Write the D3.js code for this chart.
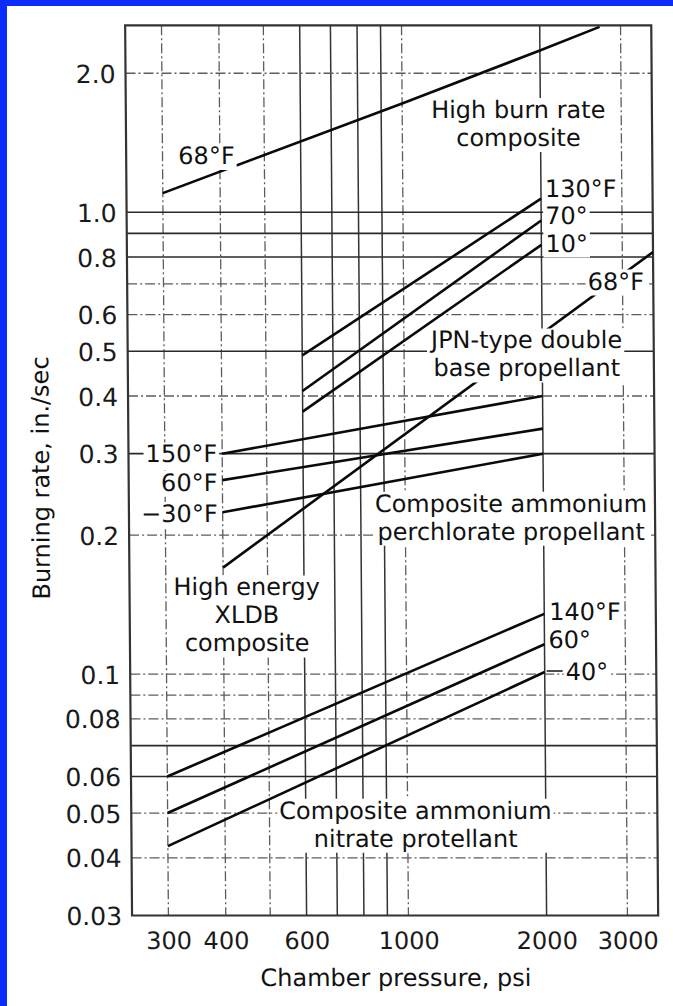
<!DOCTYPE html>
<html>
<head>
<meta charset="utf-8">
<title>Burning rate vs chamber pressure</title>
<script src="https://cdn.jsdelivr.net/npm/d3@7/dist/d3.min.js"></script>
<style>
  html, body { margin: 0; padding: 0; background: #fff; }
  svg { display: block; }
  text { font-family: "DejaVu Sans", "Liberation Sans", sans-serif; }
</style>
</head>
<body>
<svg id="chart" width="673" height="1006"></svg>
<script>
// ---------------- DATA ----------------
// Axis ticks
const pressureTicks = [300, 400, 600, 1000, 2000, 3000];
const pressureTickLabels = ["300", "400", "600", "1000", "2000", "3000"];
const rateTicks = [2.0, 1.0, 0.8, 0.6, 0.5, 0.4, 0.3, 0.2, 0.1, 0.08, 0.06, 0.05, 0.04, 0.03];
const rateTickLabels = ["2.0", "1.0", "0.8", "0.6", "0.5", "0.4", "0.3", "0.2", "0.1", "0.08", "0.06", "0.05", "0.04", "0.03"];

// Grid lines (log paper)
const pressureGridLines = [300, 400, 500, 600, 700, 800, 900, 1000, 2000, 3000];
const pressureGridSolid = [600, 700, 800, 900, 2000];
const rateGridLines = [2, 1, 0.9, 0.8, 0.7, 0.6, 0.5, 0.4, 0.3, 0.2, 0.1, 0.09, 0.08, 0.07, 0.06, 0.05, 0.04];
const rateGridSolid = [1, 0.9, 0.8, 0.5, 0.3, 0.07, 0.06];

// Curves: [chamber pressure (psi), burning rate (in./sec)]
const highBurnRate68F = [[300, 1.10], [1000, 1.72], [2000, 2.24], [2700, 2.52]];
const jpn130F = [[600, 0.49], [2000, 1.07]];
const jpn70F  = [[600, 0.41], [2000, 0.96]];
const jpn10F  = [[600, 0.37], [2000, 0.85]];
const xldb68F = [[400, 0.17], [3500, 0.82]];
const ap150F  = [[400, 0.300], [2000, 0.40]];
const ap60F   = [[400, 0.263], [2000, 0.34]];
const apM30F  = [[400, 0.224], [2000, 0.30]];
const an140F  = [[300, 0.060], [2000, 0.135]];
const an60F   = [[300, 0.050], [2000, 0.116]];
const an40F   = [[300, 0.0424], [2000, 0.101]];

const curveSeries = [highBurnRate68F, jpn130F, jpn70F, jpn10F, xldb68F, ap150F, ap60F, apM30F, an140F, an60F, an40F];
const curveTemps  = ["68°F", "130°F", "70°", "10°", "68°F", "150°F", "60°F", "−30°F", "140°F", "60°", "40°"];

// Propellant names (one entry per text line)
const propellantNames = [
  ["High burn rate", "composite"],
  ["JPN-type double", "base propellant"],
  ["High energy", "XLDB", "composite"],
  ["Composite ammonium", "perchlorate propellant"],
  ["Composite ammonium", "nitrate protellant"]
];
const xTitle = "Chamber pressure, psi";
const yTitle = "Burning rate, in./sec";

// ---------------- LAYOUT (annotation placement) ----------------
// name labels: anchor (psi, rate) of first baseline, centered
const nameAnchors = [[1790, 1.60], [1850, 0.507], [450, 0.148], [1700, 0.2245], [1040, 0.0486]];
// temperature labels: either free anchor (baseline) or at a curve end with pixel offsets
const tempPlacement = [
  { at: [374, 1.272] },
  { end: "right", dx: 4, dy: -10 },
  { end: "right", dx: 4, dy: -5 },
  { end: "right", dx: 4, dy: -2 },
  { at: [2900, 0.68] },
  { end: "left", dx: -5, dy: 0 },
  { end: "left", dx: -5, dy: 2 },
  { end: "left", dx: -5, dy: 1 },
  { end: "right", dx: 5, dy: -3 },
  { end: "right", dx: 4, dy: -5 },
  { end: "right", dx: 21, dy: -1, leader: true }
];

// ---------------- DRAW ----------------
const W = 673, H = 1006;
const FONT = 24, TICK_FONT_Y = 25, LINE_GAP = 28;
const SHEAR = 0.00776, SHEAR_Y0 = 470;   // slight scan skew of the original
const INK = "#111";

const svg = d3.select("#chart");
svg.append("rect").attr("width", W).attr("height", H).attr("fill", "#fff");
svg.append("rect").attr("x", 0).attr("y", 0).attr("width", W).attr("height", 6).attr("fill", "#0b2cff");
svg.append("rect").attr("x", 0).attr("y", 0).attr("width", 7).attr("height", H).attr("fill", "#0b2cff");

const g = svg.append("g")
  .attr("transform", `translate(${-SHEAR * SHEAR_Y0},0) skewX(${Math.atan(SHEAR) * 180 / Math.PI})`);

const x = d3.scaleLog().domain([250, 3500]).range([128.6, 654.7]);
const y = d3.scaleLog().domain([0.03, 2.54]).range([915.5, 25.3]);
const [xL, xR] = x.range();
const [yB, yT] = y.range();

svg.append("defs").append("clipPath").attr("id", "plotClip")
  .append("rect").attr("x", xL).attr("y", yT).attr("width", xR - xL).attr("height", yB - yT);

// grid
const solidP = new Set(pressureGridSolid), solidR = new Set(rateGridSolid);
const grid = g.append("g").attr("clip-path", "url(#plotClip)");
grid.selectAll("line.v").data(pressureGridLines).join("line").attr("class", "v")
  .attr("x1", d => x(d)).attr("x2", d => x(d)).attr("y1", yT).attr("y2", yB)
  .attr("stroke", d => solidP.has(d) ? "#333" : "#5c5c5c")
  .attr("stroke-width", d => solidP.has(d) ? 1.5 : 1.3)
  .attr("stroke-dasharray", d => solidP.has(d) ? null : "10 3 2 3");
grid.selectAll("line.h").data(rateGridLines).join("line").attr("class", "h")
  .attr("x1", xL).attr("x2", xR).attr("y1", d => y(d)).attr("y2", d => y(d))
  .attr("stroke", d => solidR.has(d) ? "#2a2a2a" : "#5c5c5c")
  .attr("stroke-width", d => solidR.has(d) ? 1.7 : 1.3)
  .attr("stroke-dasharray", d => solidR.has(d) ? null : "10 3 2 3");

// frame
g.append("rect").attr("x", xL).attr("y", yT).attr("width", xR - xL).attr("height", yB - yT)
  .attr("fill", "none").attr("stroke", "#333").attr("stroke-width", 2.2);

// curves
const lineGen = d3.line().x(d => x(d[0])).y(d => y(d[1]));
g.append("g").attr("clip-path", "url(#plotClip)")
  .selectAll("path").data(curveSeries).join("path")
  .attr("d", d => lineGen(d))
  .attr("fill", "none").attr("stroke", "#0a0a0a").attr("stroke-width", 2.6);

// label helper: white knock-out box behind text
const labels = g.append("g");
function addLabel(lines, px, firstBaseline, anchor) {
  const grp = labels.append("g");
  const bg = grp.append("rect").attr("fill", "#fff");
  const t = grp.append("text").attr("font-size", FONT).attr("fill", INK).attr("text-anchor", anchor);
  lines.forEach((s, i) => {
    t.append("tspan").attr("x", px).attr("y", firstBaseline + i * LINE_GAP).text(s);
  });
  const bb = t.node().getBBox();
  const top = firstBaseline - 20, bottom = firstBaseline + (lines.length - 1) * LINE_GAP + 6;
  bg.attr("x", bb.x - 2).attr("y", top).attr("width", bb.width + 4).attr("height", bottom - top);
  return bb;
}

propellantNames.forEach((lines, i) => {
  const [p, r] = nameAnchors[i];
  addLabel(lines, x(p), y(r), "middle");
});

const capHalf = FONT * 0.729 / 2;
curveTemps.forEach((txt, i) => {
  const pl = tempPlacement[i];
  const pts = curveSeries[i];
  if (pl.at) {
    addLabel([txt], x(pl.at[0]), y(pl.at[1]), "middle");
  } else {
    const pt = pl.end === "right" ? pts[pts.length - 1] : pts[0];
    const px = x(pt[0]) + pl.dx, cy = y(pt[1]) + pl.dy;
    addLabel([txt], px, cy + capHalf, pl.end === "right" ? "start" : "end");
    if (pl.leader) {
      labels.append("line")
        .attr("x1", x(pt[0]) + 2).attr("x2", px - 3)
        .attr("y1", cy).attr("y2", cy)
        .attr("stroke", INK).attr("stroke-width", 1.6);
    }
  }
});

// axes (labels only; frame drawn above)
const yAxis = d3.axisLeft(y).tickValues(rateTicks)
  .tickFormat((d, i) => rateTickLabels[i]).tickSize(0).tickPadding(10);
const yAx = g.append("g").attr("transform", `translate(${xL},0)`).call(yAxis);
yAx.select(".domain").remove();
yAx.selectAll("text").attr("font-size", TICK_FONT_Y).attr("fill", "#1a1a1a")
  .attr("font-family", '"DejaVu Sans", sans-serif').attr("dy", "0.36em");

const xAxis = d3.axisBottom(x).tickValues(pressureTicks)
  .tickFormat((d, i) => pressureTickLabels[i]).tickSize(0);
const xAx = g.append("g").attr("transform", `translate(0,${yB})`).call(xAxis);
xAx.select(".domain").remove();
xAx.selectAll("text").attr("font-size", FONT).attr("fill", "#1a1a1a")
  .attr("font-family", '"DejaVu Sans", sans-serif').attr("y", 33.5).attr("dy", 0);

// titles
g.append("text").attr("transform", "translate(49,478) rotate(-90)")
  .attr("text-anchor", "middle").attr("font-size", FONT).attr("fill", INK).text(yTitle);
g.append("text").attr("x", 392).attr("y", 986)
  .attr("text-anchor", "middle").attr("font-size", FONT).attr("fill", INK).text(xTitle);
</script>
</body>
</html>
